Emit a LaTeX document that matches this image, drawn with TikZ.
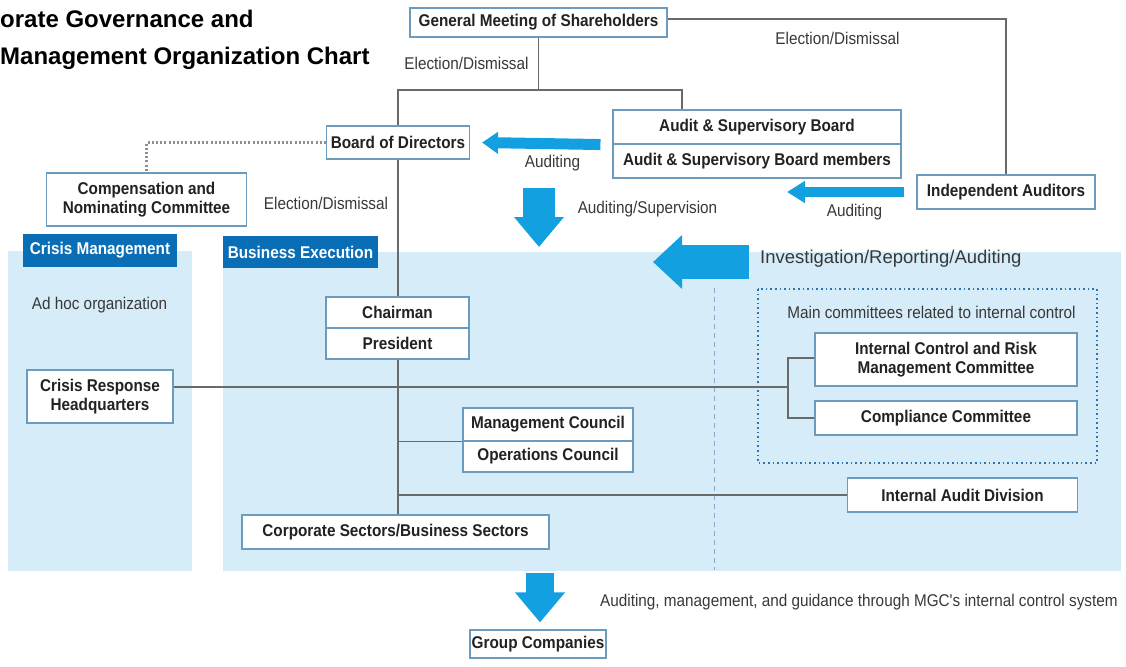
\documentclass[tikz,border=0pt]{standalone}
\usepackage{fontspec}
\setmainfont{Liberation Sans}
\newfontfamily\condfont{Liberation Sans}[FakeStretch=0.9]
\usetikzlibrary{positioning,arrows.meta}

\definecolor{panelblue}{HTML}{D6ECF8}
\definecolor{headblue}{HTML}{0A6EB6}
\definecolor{arrowblue}{HTML}{12A0E0}
\definecolor{boxline}{HTML}{6C9CBD}
\definecolor{linegray}{HTML}{6A6A6A}
\definecolor{dotblue}{HTML}{2F72AE}
\definecolor{textgray}{HTML}{222222}

\begin{document}
\begin{tikzpicture}[x=1pt,y=-1pt,
	box/.style={draw=boxline,fill=white,line width=1.1pt,inner sep=0pt,align=center,text=textgray,
		font=\condfont\bfseries\fontsize{17}{18.5}\selectfont},
	head/.style={fill=headblue,text=white,inner sep=0pt,
		font=\condfont\bfseries\fontsize{17}{18}\selectfont},
	lbl/.style={inner sep=0pt,text=textgray!90,font=\condfont\fontsize{17}{18}\selectfont},
	conn/.style={draw=linegray,line width=1.2pt}]
	\useasboundingbox (0,0) rectangle (1126,666);
	% title
	\node[anchor=base west,inner sep=0pt,font=\bfseries\fontsize{24}{28}\selectfont] (title1) at (0,28) {orate Governance and};
	\node[anchor=base west,inner sep=0pt,font=\bfseries\fontsize{24}{28}\selectfont] (title2) at (0,65) {Management Organization Chart};
	% panels
	\fill[panelblue] (8,251) rectangle (192,571);
	\fill[panelblue] (223,252) rectangle (1121,571);
	\node[head,minimum width=154pt,minimum height=33pt] (crisis) at (100,250.5) {Crisis Management};
	\node[head,minimum width=155pt,minimum height=32pt] (busex) at (300.5,252) {Business Execution};
	\draw[dotblue!60,line width=1pt,dash pattern=on 5pt off 4pt] (714,288) -- (714,570);
	\draw[dotblue,line width=1.8pt,dash pattern=on 1.6pt off 3pt] (758,289) rectangle (1097,463);
	% boxes
	\node[box,minimum width=257pt,minimum height=29pt] (gms) at (538.5,22.5) {General Meeting of Shareholders};
	\node[box,minimum width=143pt,minimum height=33pt] (bod) at (398,142.5) {Board of Directors};
	\node[box,minimum width=288pt,minimum height=34pt] (asbt) at (757,127) {Audit \& Supervisory Board};
	\node[box,minimum width=288pt,minimum height=34pt] (asbm) at (757,161) {Audit \& Supervisory Board members};
	\node[box,minimum width=178pt,minimum height=34pt] (ia) at (1006,192) {Independent Auditors};
	\node[box,minimum width=200pt,minimum height=53pt] (cnc) at (146.5,199.5) {Compensation and\\Nominating Committee};
	\node[box,minimum width=146pt,minimum height=53pt] (crh) at (100,396.5) {Crisis Response\\Headquarters};
	\node[box,minimum width=143pt,minimum height=31pt] (chair) at (397.5,312.5) {Chairman};
	\node[box,minimum width=143pt,minimum height=31pt] (pres) at (397.5,343.5) {President};
	\node[box,minimum width=170pt,minimum height=33pt] (mc) at (548,424.5) {Management Council};
	\node[box,minimum width=170pt,minimum height=31pt] (oc) at (548,456.5) {Operations Council};
	\node[box,minimum width=307pt,minimum height=34pt] (cs) at (395.5,532) {Corporate Sectors/Business Sectors};
	\node[box,minimum width=262pt,minimum height=53pt] (icrm) at (946,359.5) {Internal Control and Risk\\Management Committee};
	\node[box,minimum width=262pt,minimum height=34pt] (cc) at (946,418) {Compliance Committee};
	\node[box,minimum width=230pt,minimum height=34pt] (iad) at (962.5,495) {Internal Audit Division};
	\node[box,minimum width=136pt,minimum height=28pt] (gc) at (538,644) {Group Companies};
	% labels
	\node[lbl] (ed1) at (466.5,63) {Election/Dismissal};
	\node[lbl] (ed2) at (837.5,38) {Election/Dismissal};
	\node[lbl] (ed3) at (326,203) {Election/Dismissal};
	\node[lbl] (aud1) at (552.5,163) {Auditing};
	\node[lbl] (aud2) at (854.5,212) {Auditing};
	\node[lbl] (audsup) at (647.5,209) {Auditing/Supervision};
	\node[lbl] (adhoc) at (99.5,305) {Ad hoc organization};
	\node[lbl] (maincom) at (931.5,312) {Main committees related to internal control};
	\node[lbl,anchor=west,font=\fontsize{18.5}{20}\selectfont] (inv) at (760,259) {Investigation/Reporting/Auditing};
	\node[lbl,anchor=west] (guide) at (600,602) {Auditing, management, and guidance through MGC's internal control system};
	% connectors
	\coordinate (split) at (540,90);
	\coordinate (brk) at (788,387);
	\draw[conn] (gms.south) -- (gms.south |- split);
	\draw[conn] (bod.north) |- (split) -| ([xshift=-75pt]asbt.north);
	\draw[conn] (gms.east |- 0,19) -| (ia.north);
	\draw[linegray!75,line width=2.2pt,dash pattern=on 2pt off 2.2pt] (bod.west) -| (cnc.north);
	\draw[conn] (bod.south) -- (chair.north -| bod.south);
	\draw[conn] (pres.south -| bod.south) -- (cs.north -| bod.south);
	\draw[conn] (bod.south |- mc.south west) -- (mc.south west);
	\draw[conn] (bod.south |- iad.west) -- (iad.west);
	\draw[conn] (crh.east |- brk) -- (brk);
	\draw[conn] (icrm.west |- 0,358) -| (brk) |- (cc.west);
	% block arrows
	\draw[arrowblue,line width=11pt,-{Triangle[width=21pt,length=16pt]}] ([xshift=-12pt]asbt.south west) -- ([xshift=12pt]bod.east);
	\draw[arrowblue,line width=10pt,-{Triangle[width=21pt,length=18pt]}] ([xshift=-12pt]ia.west) -- (787,192);
	\draw[arrowblue,line width=32pt,-{Triangle[width=48pt,length=30pt]}] (539,188) -- (539,247);
	\draw[arrowblue,line width=34pt,-{Triangle[width=52pt,length=29pt]}] (749,262) -- (653,262);
	\draw[arrowblue,line width=28pt,-{Triangle[width=48pt,length=30pt]}] (540,573) -- ([yshift=7pt]gc.north -| 540,0);
\end{tikzpicture}
\end{document}
